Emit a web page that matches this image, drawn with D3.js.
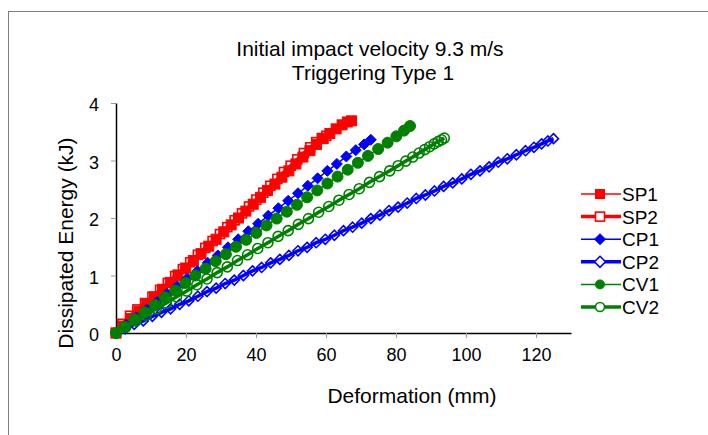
<!DOCTYPE html>
<html>
<head>
  <script src="https://cdnjs.cloudflare.com/ajax/libs/d3/7.8.5/d3.min.js"></script>
  <style>
    body { margin: 0; background: #fff; }
    text { font-family: "Liberation Sans", Arial, sans-serif; fill: #000; }
  </style>
</head>
<body>
  <div id="chart"></div>

  <script>
    const width = 708;
    const height = 435;

    // deformation (mm) / dissipated energy (kJ)
    const sp1D = [0, 2.1, 4.3, 6.6, 8.8, 11.0, 13.3, 15.5, 17.7, 19.9, 22.1, 24.3, 26.5, 28.6, 30.8, 32.9, 35.0, 37.1, 39.2, 41.3, 43.3, 45.4, 47.4, 49.4, 51.4, 53.4, 55.4, 57.3, 59.2, 61.1, 62.9, 64.6, 66.1, 67.3];
    const sp1E = [0, 0.12, 0.25, 0.38, 0.50, 0.63, 0.76, 0.88, 1.01, 1.13, 1.26, 1.38, 1.51, 1.63, 1.76, 1.88, 2.00, 2.12, 2.24, 2.36, 2.48, 2.59, 2.71, 2.82, 2.94, 3.06, 3.17, 3.28, 3.38, 3.47, 3.55, 3.62, 3.67, 3.69];

    const sp2D = [0, 1.8, 4.0, 6.1, 8.3, 10.4, 12.6, 14.8, 16.9, 19.1, 21.2, 23.4, 25.5, 27.6, 29.7, 31.8, 33.9, 36.0, 38.0, 40.1, 42.1, 44.1, 46.1, 48.0, 49.9, 51.8, 53.7, 55.5, 57.2, 58.8, 60.1];
    const sp2E = [0, 0.16, 0.30, 0.41, 0.52, 0.63, 0.75, 0.87, 0.99, 1.11, 1.23, 1.36, 1.48, 1.60, 1.72, 1.84, 1.96, 2.08, 2.20, 2.32, 2.44, 2.56, 2.68, 2.80, 2.91, 3.02, 3.13, 3.23, 3.32, 3.39, 3.43];

    const cp1D = [0, 2.9, 5.8, 8.8, 11.7, 14.6, 17.5, 20.4, 23.3, 26.2, 29.1, 32.0, 34.9, 37.8, 40.6, 43.5, 46.4, 49.2, 52.0, 54.8, 57.6, 60.4, 63.1, 65.8, 68.5, 70.9, 72.8];
    const cp1E = [0, 0.14, 0.27, 0.41, 0.54, 0.68, 0.81, 0.95, 1.08, 1.22, 1.35, 1.49, 1.63, 1.77, 1.90, 2.04, 2.17, 2.30, 2.43, 2.56, 2.69, 2.82, 2.94, 3.07, 3.18, 3.28, 3.36];

    const cp2D = [0, 2.6, 5.2, 7.8, 10.4, 13.0, 15.6, 18.2, 20.8, 23.4, 26.0, 28.6, 31.2, 33.8, 36.4, 39.0, 41.6, 44.2, 46.8, 49.4, 52.0, 54.6, 57.2, 59.8, 62.4, 65.0, 67.6, 70.2, 72.8, 75.4, 78.0, 80.6, 83.2, 85.8, 88.4, 91.0, 93.6, 96.2, 98.8, 101.4, 104.0, 106.6, 109.2, 111.8, 114.4, 117.0, 119.4, 121.6, 123.4, 125.0];
    const cp2E = [0, 0.07, 0.15, 0.21, 0.29, 0.36, 0.42, 0.50, 0.56, 0.64, 0.72, 0.78, 0.86, 0.92, 1.00, 1.08, 1.14, 1.22, 1.28, 1.35, 1.43, 1.49, 1.57, 1.63, 1.70, 1.78, 1.84, 1.91, 1.99, 2.05, 2.13, 2.19, 2.26, 2.34, 2.40, 2.47, 2.55, 2.61, 2.68, 2.76, 2.82, 2.89, 2.97, 3.03, 3.10, 3.17, 3.23, 3.29, 3.34, 3.38];

    const cv1D = [0, 2.4, 5.3, 8.2, 11.1, 14.0, 16.9, 19.8, 22.7, 25.6, 28.5, 31.4, 34.3, 37.2, 40.1, 43.0, 45.9, 48.8, 51.7, 54.6, 57.5, 60.4, 63.3, 66.2, 69.1, 72.0, 74.9, 77.6, 80.1, 82.3, 84.0];
    const cv1E = [0, 0.11, 0.24, 0.36, 0.49, 0.62, 0.74, 0.87, 1.00, 1.12, 1.25, 1.37, 1.50, 1.62, 1.74, 1.87, 1.99, 2.11, 2.23, 2.36, 2.48, 2.60, 2.72, 2.84, 2.96, 3.08, 3.20, 3.31, 3.42, 3.52, 3.60];

    const cv2D = [0, 2.8, 5.7, 8.6, 11.5, 14.4, 17.3, 20.2, 23.1, 26.0, 28.9, 31.8, 34.7, 37.6, 40.5, 43.4, 46.3, 49.2, 52.1, 55.0, 57.9, 60.8, 63.7, 66.6, 69.5, 72.4, 75.3, 78.2, 80.6, 82.8, 84.8, 86.6, 88.2, 89.6, 90.9, 92.0, 93.0, 93.8];
    const cv2E = [0, 0.10, 0.21, 0.31, 0.42, 0.52, 0.63, 0.73, 0.84, 0.94, 1.05, 1.15, 1.26, 1.36, 1.47, 1.57, 1.68, 1.78, 1.89, 1.99, 2.10, 2.20, 2.31, 2.41, 2.51, 2.62, 2.72, 2.82, 2.91, 2.99, 3.06, 3.13, 3.19, 3.24, 3.29, 3.33, 3.36, 3.39];

    const seriesNames = ['SP1', 'SP2', 'CP1', 'CP2', 'CV1', 'CV2'];
    const xTicks = [0, 20, 40, 60, 80, 100, 120];
    const yTicks = [0, 1, 2, 3, 4];

    const series = [
      { d: sp1D, e: sp1E, color: '#ff0000', lw: 1.5, shape: 'square', fill: true },
      { d: sp2D, e: sp2E, color: '#ff0000', lw: 3.5, shape: 'square', fill: false },
      { d: cp1D, e: cp1E, color: '#0000ff', lw: 1.5, shape: 'diamond', fill: true },
      { d: cp2D, e: cp2E, color: '#0000ff', lw: 3.5, shape: 'diamond', fill: false },
      { d: cv1D, e: cv1E, color: '#008000', lw: 1.5, shape: 'circle', fill: true },
      { d: cv2D, e: cv2E, color: '#008000', lw: 3.5, shape: 'circle', fill: false }
    ];

    const svg = d3.select('#chart').append('svg')
      .attr('width', width)
      .attr('height', height);

    svg.append('rect')
      .attr('x', 8.5).attr('y', 11.5)
      .attr('width', 760).attr('height', 460)
      .attr('fill', '#fff')
      .attr('stroke', '#7f7f7f');

    const x = d3.scaleLinear().domain([0, 130]).range([116, 571]);
    const y = d3.scaleLinear().domain([0, 4]).range([333, 103]);

    // axes
    const gx = svg.append('g')
      .attr('transform', `translate(0,${y(0)})`)
      .call(d3.axisBottom(x).tickValues(xTicks).tickSize(5).tickSizeOuter(0).tickPadding(10));
    const gy = svg.append('g')
      .attr('transform', `translate(${x(0)},0)`)
      .call(d3.axisLeft(y).tickValues(yTicks).tickFormat(d3.format('d'))
        .tickSize(5).tickSizeOuter(0).tickPadding(12));

    [gx, gy].forEach(g => {
      g.select('.domain').attr('stroke', '#000').attr('stroke-width', 1.5);
      g.selectAll('.tick line').attr('stroke', '#999');
      g.selectAll('.tick text')
        .style('font-family', '"Liberation Sans", Arial, sans-serif')
        .style('font-size', '18px')
        .attr('fill', '#000');
    });
    gx.selectAll('.tick text').attr('dy', '0.72em');
    gy.selectAll('.tick text').attr('dy', '0.42em');

    // marker drawing
    function marker(sel, s, size, openFill) {
      const r = size / 2;
      let m;
      if (s.shape === 'square') {
        m = sel.append('rect').attr('x', -r).attr('y', -r).attr('width', size).attr('height', size);
      } else if (s.shape === 'diamond') {
        m = sel.append('path').attr('d', `M0,${-r - 1}L${r + 1},0L0,${r + 1}L${-r - 1},0Z`);
      } else {
        m = sel.append('circle').attr('r', r);
      }
      if (s.fill) {
        m.attr('fill', s.color).attr('stroke', s.color).attr('stroke-width', 1);
      } else {
        m.attr('fill', openFill).attr('stroke', s.color).attr('stroke-width', 1.6);
      }
    }

    const markerSize = { square: 10, diamond: 9, circle: 11 };
    const line = d3.line().x(p => x(p[0])).y(p => y(p[1]));

    series.forEach(s => {
      const pts = s.d.map((d, i) => [d, s.e[i]]);
      const g = svg.append('g');
      g.append('path')
        .datum(pts)
        .attr('d', line)
        .attr('fill', 'none')
        .attr('stroke', s.color)
        .attr('stroke-width', s.lw);
      g.selectAll('g.pt')
        .data(pts)
        .join('g')
        .attr('class', 'pt')
        .attr('transform', p => `translate(${x(p[0])},${y(p[1])})`)
        .each(function () {
          marker(d3.select(this), s, markerSize[s.shape] - (s.fill ? 0 : 1), 'none');
        });
    });

    // titles
    const title = svg.append('text')
      .attr('text-anchor', 'middle')
      .style('font-size', '21px');
    title.append('tspan').attr('x', 370).attr('y', 56).text('Initial impact velocity 9.3 m/s');
    title.append('tspan').attr('x', 373).attr('y', 80).text('Triggering Type 1');

    svg.append('text')
      .attr('x', 412).attr('y', 403)
      .attr('text-anchor', 'middle')
      .style('font-size', '21px')
      .text('Deformation (mm)');

    svg.append('text')
      .attr('transform', 'translate(73,243) rotate(-90)')
      .attr('text-anchor', 'middle')
      .style('font-size', '21px')
      .text('Dissipated Energy (kJ)');

    // legend
    const legend = svg.append('g');
    series.forEach((s, i) => {
      const ly = 194 + i * 22.6;
      const g = legend.append('g').attr('transform', `translate(0,${ly})`);
      g.append('line')
        .attr('x1', 581).attr('x2', 621)
        .attr('stroke', s.color)
        .attr('stroke-width', s.lw);
      const mg = g.append('g').attr('transform', 'translate(600,0)');
      marker(mg, s, 9, '#fff');
      g.append('text')
        .attr('x', 622).attr('y', 7)
        .style('font-size', '19px')
        .text(seriesNames[i]);
    });
  </script>
</body>
</html>
